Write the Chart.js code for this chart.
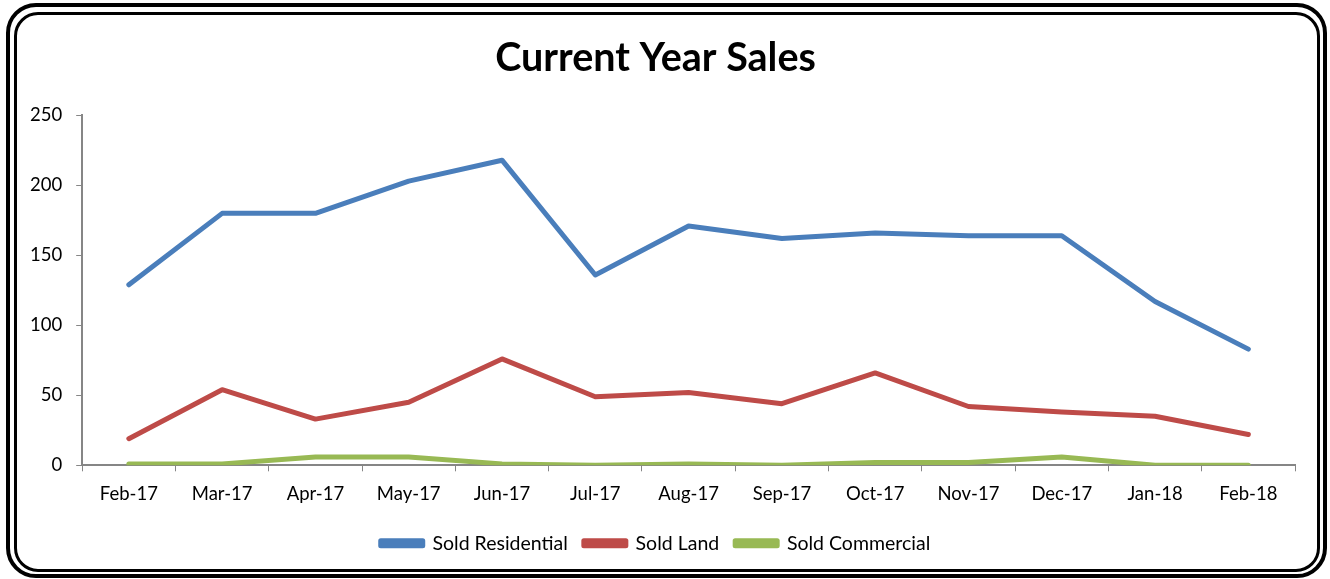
<!DOCTYPE html>
<html>
<head>
<meta charset="utf-8">
<script src="https://cdn.jsdelivr.net/npm/chart.js@4"></script>
<style>
  html, body { margin: 0; padding: 0; background: #fff; }
  body { width: 1330px; height: 579px; position: relative; overflow: hidden; }
  .frame-outer {
    position: absolute; left: 6px; top: 3px; width: 1321px; height: 575px;
    box-sizing: border-box; border: 4px solid #000; border-radius: 30px;
  }
  .frame-inner {
    position: absolute; left: 14px; top: 12px; width: 1306px; height: 560px;
    box-sizing: border-box; border: 3px solid #000; border-radius: 24px;
  }
  #wrap { position: absolute; left: 0; top: 0; width: 1330px; height: 579px; }
</style>
</head>
<body>
<div class="frame-outer"></div>
<div class="frame-inner"></div>
<div id="wrap"><canvas id="salesChart"></canvas></div>
<script>
// Chart data
const months = ["Feb-17", "Mar-17", "Apr-17", "May-17", "Jun-17", "Jul-17", "Aug-17",
  "Sep-17", "Oct-17", "Nov-17", "Dec-17", "Jan-18", "Feb-18"];
const soldResidential = [129, 180, 180, 203, 218, 136, 171, 162, 166, 164, 164, 117, 83];
const soldLand = [19, 54, 33, 45, 76, 49, 52, 44, 66, 42, 38, 35, 22];
const soldCommercial = [1, 1, 6, 6, 1, 0, 1, 0, 2, 2, 6, 0, 0];
const yTicks = [0, 50, 100, 150, 200, 250];

const FONT = "Lato, 'Open Sans', sans-serif";
const axisColor = "#868686";

function makeSeries(label, data, color) {
  return {
    label: label,
    data: data,
    borderColor: color,
    backgroundColor: color,
    borderWidth: 5,
    pointRadius: 0,
    tension: 0,
    borderCapStyle: "round",
    borderJoinStyle: "round",
  };
}

const ctx = document.getElementById("salesChart").getContext("2d");
const salesChart = new Chart(ctx, {
  type: "line",
  data: {
    labels: months,
    datasets: [
      makeSeries("Sold Residential", soldResidential, "#4a7ebb"),
      makeSeries("Sold Land", soldLand, "#be4b48"),
      makeSeries("Sold Commercial", soldCommercial, "#98b954"),
    ],
  },
  options: {
    responsive: true,
    maintainAspectRatio: false,
    animation: false,
    layout: { padding: { left: 16, right: 35, top: 0, bottom: 16 } },
    plugins: {
      title: {
        display: true,
        text: "Current Year Sales",
        color: "#000",
        font: { family: FONT, size: 39.5, weight: "bold" },
        padding: { top: 35, bottom: 33 },
      },
      legend: {
        position: "bottom",
        labels: {
          color: "#000",
          font: { family: FONT, size: 19.5 },
          boxWidth: 42,
          boxHeight: 5,
          padding: 16,
        },
      },
      tooltip: { enabled: false },
    },
    scales: {
      x: {
        offset: true,
        grid: {
          offset: true,
          drawOnChartArea: false,
          drawTicks: true,
          tickLength: 6,
          color: axisColor,
        },
        border: { color: axisColor, width: 2 },
        ticks: { color: "#000", font: { family: FONT, size: 18.5 }, padding: 12, maxRotation: 0 },
      },
      y: {
        min: 0,
        max: 250,
        afterBuildTicks: (axis) => {
          axis.ticks = yTicks.map((v) => ({ value: v }));
        },
        grid: {
          drawOnChartArea: false,
          drawTicks: true,
          tickLength: 6,
          color: axisColor,
        },
        border: { color: axisColor, width: 2 },
        ticks: { color: "#000", font: { family: FONT, size: 18.5 }, padding: 14 },
      },
    },
  },
});
</script>
</body>
</html>
